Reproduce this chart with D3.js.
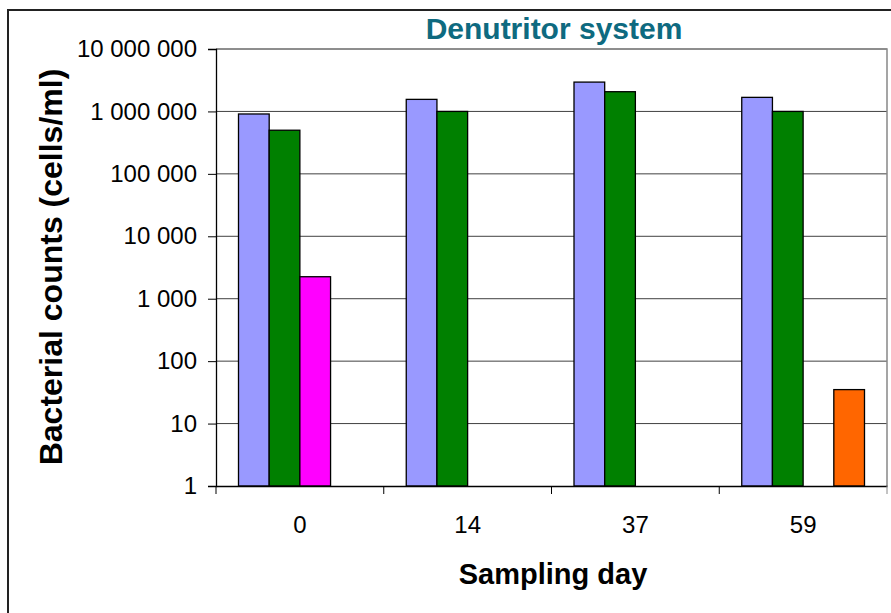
<!DOCTYPE html>
<html>
<head>
<meta charset="utf-8">
<script src="https://cdn.jsdelivr.net/npm/d3@7"></script>
<style>
  body { margin: 0; background: #fff; }
  svg { display: block; font-family: Arial, "Liberation Sans", sans-serif; }
</style>
</head>
<body>
<svg id="chart" width="891" height="613"></svg>
<script>
// sampling days and the four bar series (null = no bar)
var days = ["0", "14", "37", "59"]
var seriesNames = ["s1", "s2", "s3", "s4"]
var seriesColors = ["#9999ff", "#008000", "#ff00ff", "#ff6600"]
var s1 = [910000, 1560000, 2950000, 1680000]
var s2 = [500000, 1000000, 2070000, 1000000]
var s3 = [2250, null, null, null]
var s4 = [null, null, null, 35]
var yTicks = [1, 10, 100, 1000, 10000, 100000, 1000000, 10000000]

var values = [s1, s2, s3, s4]

var svg = d3.select("#chart")
var plotL = 216, plotR = 887, plotT = 49, plotB = 486

// outer chart frame (runs off the right/bottom edges)
svg.append("rect")
    .attr("x", 8).attr("y", 10)
    .attr("width", 1000).attr("height", 1000)
    .attr("fill", "none").attr("stroke", "#222").attr("stroke-width", 2)

var y = d3.scaleLog().domain([1, 1e7]).range([plotB, plotT])
var x = d3.scaleBand().domain(days).range([plotL, plotR])
var bw = x.bandwidth()
var xs = d3.scaleBand().domain(seriesNames).range([22.5, bw - 22.5])

var fmt = function (d) { return d3.format(",")(d).replace(/,/g, " ") }

// gridlines
svg.append("g")
    .selectAll("line")
    .data(yTicks.slice(1))
    .enter().append("line")
    .attr("x1", plotL).attr("x2", plotR)
    .attr("y1", function (d) { return y(d) }).attr("y2", function (d) { return y(d) })
    .attr("stroke", "#404040").attr("stroke-width", 1)

// plot area border (top / right)
svg.append("path")
    .attr("d", "M" + plotL + "," + plotT + "H" + plotR + "V" + plotB)
    .attr("fill", "none").attr("stroke", "#888").attr("stroke-width", 1.5)

// bars
var rows = []
days.forEach(function (d, i) {
    seriesNames.forEach(function (s, j) {
        if (values[j][i] != null) rows.push({ day: d, s: s, v: values[j][i], c: seriesColors[j] })
    })
})

svg.append("g")
    .selectAll("rect")
    .data(rows)
    .enter().append("rect")
    .attr("x", function (d) { return x(d.day) + xs(d.s) })
    .attr("width", xs.bandwidth())
    .attr("y", function (d) { return y(d.v) })
    .attr("height", function (d) { return plotB - y(d.v) })
    .attr("fill", function (d) { return d.c })
    .attr("stroke", "#000").attr("stroke-width", 1.3)

// y axis
var yAxis = svg.append("g")
    .attr("transform", "translate(" + plotL + ",0)")
    .call(d3.axisLeft(y).tickValues(yTicks).tickFormat(fmt).tickSize(8).tickPadding(11))
yAxis.select(".domain").attr("stroke", "#000").attr("stroke-width", 1.3)
yAxis.selectAll(".tick line").attr("stroke", "#000")
yAxis.selectAll("text").attr("font-size", 24).attr("fill", "#000")
    .attr("font-family", "Arial, 'Liberation Sans', sans-serif")

// x axis
var xAxis = svg.append("g")
    .attr("transform", "translate(0," + plotB + ")")
    .call(d3.axisBottom(x).tickSize(0).tickPadding(30))
xAxis.select(".domain").attr("stroke", "#000").attr("stroke-width", 1.3)
xAxis.selectAll("text").attr("font-size", 24).attr("fill", "#000")
    .attr("font-family", "Arial, 'Liberation Sans', sans-serif")

// category boundary ticks
svg.append("g")
    .selectAll("line")
    .data(days.concat(["end"]))
    .enter().append("line")
    .attr("x1", function (d, i) { return plotL + i * bw })
    .attr("x2", function (d, i) { return plotL + i * bw })
    .attr("y1", plotB).attr("y2", plotB + 8)
    .attr("stroke", function (d, i) { return i == days.length ? "#888" : "#000" })

// titles
svg.append("text")
    .attr("x", 554).attr("y", 39)
    .attr("text-anchor", "middle")
    .attr("font-size", 30).attr("font-weight", "bold")
    .attr("fill", "#0e6a80")
    .text("Denutritor system")

svg.append("text")
    .attr("x", 553).attr("y", 584)
    .attr("text-anchor", "middle")
    .attr("font-size", 29).attr("font-weight", "bold")
    .text("Sampling day")

svg.append("text")
    .attr("transform", "translate(62,267) rotate(-90)")
    .attr("text-anchor", "middle")
    .attr("font-size", 32).attr("font-weight", "bold")
    .text("Bacterial counts (cells/ml)")
</script>
</body>
</html>
